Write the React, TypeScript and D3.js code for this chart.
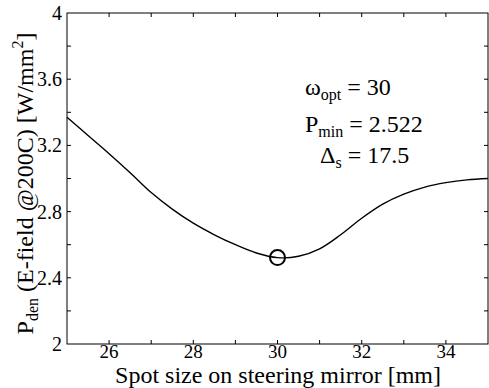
import React from "react";
import * as d3 from "d3";

// Spot size on steering mirror [mm]
const spotSize = [25, 25.5, 26, 26.5, 27, 27.5, 28, 28.5, 29, 29.5, 30, 30.5, 31, 31.5, 32, 32.5, 33, 33.5, 34, 34.5, 35];
// Power density P_den [W/mm^2]
const powerDensity = [3.37, 3.26, 3.15, 3.035, 2.915, 2.815, 2.73, 2.66, 2.6, 2.55, 2.522, 2.53, 2.575, 2.66, 2.76, 2.845, 2.905, 2.948, 2.975, 2.992, 3.0];

const xTickValues = [26, 27, 28, 29, 30, 31, 32, 33, 34];
const xTickLabels = [26, 28, 30, 32, 34];
const yTickValues = [2.2, 2.4, 2.6, 2.8, 3.0, 3.2, 3.4, 3.6, 3.8];
const yTickLabels = ["2", "2.4", "2.8", "3.2", "3.6", "4"];

const optimum = { x: 30, y: 2.522 };
const omegaOpt = "30";
const pMin = "2.522";
const deltaS = "17.5";

const W = 489;
const H = 388;
const left = 67;
const right = 488;
const top = 13;
const bottom = 344;
const font = "Liberation Serif";

export default function App() {
  const x = d3.scaleLinear().domain([25, 35]).range([left, right]);
  const y = d3.scaleLinear().domain([2, 4]).range([bottom, top]);
  const line = d3
    .line<number>()
    .x((_, i) => x(spotSize[i]))
    .y((d) => y(d))
    .curve(d3.curveCatmullRom.alpha(0.5));
  const tl = 4;

  return (
    <svg
      width={W}
      height={H}
      viewBox={`0 0 ${W} ${H}`}
      style={{ position: "absolute", left: 0, top: 0, background: "#fff" }}
    >
      <rect x={0} y={0} width={W} height={H} fill="#fff" />
      {/* plot frame */}
      <rect x={left} y={top} width={right - left} height={bottom - top} fill="none" stroke="#000" strokeWidth={1} />
      {/* x ticks on bottom and top, pointing inward */}
      {xTickValues.map((v) => (
        <g key={"xt" + v}>
          <line x1={x(v)} x2={x(v)} y1={bottom} y2={bottom - tl} stroke="#000" strokeWidth={1} />
          <line x1={x(v)} x2={x(v)} y1={top} y2={top + tl} stroke="#000" strokeWidth={1} />
        </g>
      ))}
      {/* y ticks on left and right */}
      {yTickValues.map((v) => (
        <g key={"yt" + v}>
          <line x1={left} x2={left + tl} y1={y(v)} y2={y(v)} stroke="#000" strokeWidth={1} />
          <line x1={right} x2={right - tl} y1={y(v)} y2={y(v)} stroke="#000" strokeWidth={1} />
        </g>
      ))}
      {xTickLabels.map((v) => (
        <text key={"xl" + v} x={x(v)} y={358} fontFamily={font} fontSize={19} textAnchor="middle" fill="#000">
          {v}
        </text>
      ))}
      {yTickLabels.map((s) => (
        <text key={"yl" + s} x={62} y={y(parseFloat(s)) + 7} fontFamily={font} fontSize={20} textAnchor="end" fill="#000">
          {s}
        </text>
      ))}
      {/* curve */}
      <path d={line(powerDensity) ?? ""} fill="none" stroke="#000" strokeWidth={1.4} />
      <circle cx={x(optimum.x)} cy={y(optimum.y)} r={7.5} fill="none" stroke="#000" strokeWidth={2} />
      {/* axis titles */}
      <text x={(113 + 443) / 2} y={383} fontFamily={font} fontSize={24} textAnchor="middle" fill="#000">
        Spot size on steering mirror [mm]
      </text>
      <text transform={`translate(33, ${(17 + 350) / 2}) rotate(-90)`} fontFamily={font} fontSize={24} textAnchor="middle" fill="#000">
        P
        <tspan fontSize={16} dy={5}>den</tspan>
        <tspan dy={-5}> (E-field @200C) [W/mm</tspan>
        <tspan fontSize={16} dy={-10}>2</tspan>
        <tspan dy={10}>]</tspan>
      </text>
      {/* optimum annotation */}
      <text x={305} y={95} fontFamily={font} fontSize={24} fill="#000">
        ω<tspan fontSize={16} dy={5}>opt</tspan>
        <tspan dy={-5}> = {omegaOpt}</tspan>
      </text>
      <text x={305} y={132} fontFamily={font} fontSize={24} fill="#000">
        P<tspan fontSize={16} dy={5}>min</tspan>
        <tspan dy={-5}> = {pMin}</tspan>
      </text>
      <text x={320} y={163} fontFamily={font} fontSize={24} fill="#000">
        Δ<tspan fontSize={16} dy={5}>s</tspan>
        <tspan dy={-5}> = {deltaS}</tspan>
      </text>
    </svg>
  );
}
